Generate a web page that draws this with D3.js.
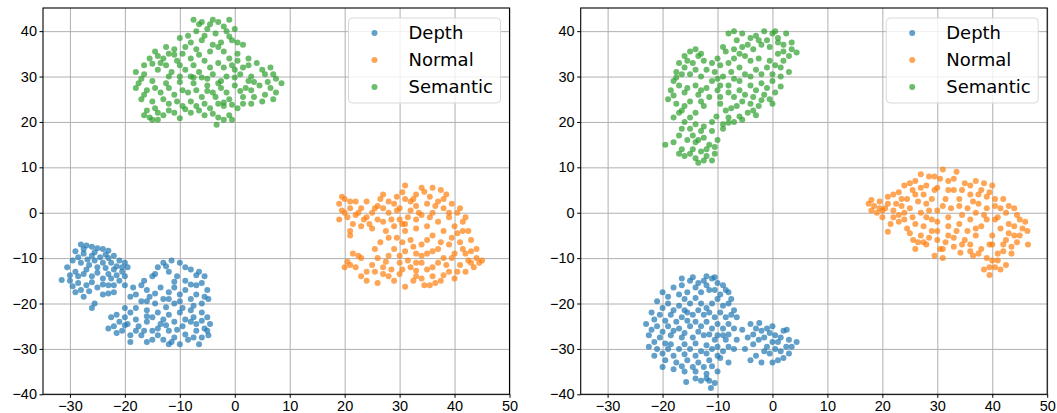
<!DOCTYPE html>
<html>
<head>
<meta charset="utf-8">
<script src="https://cdn.jsdelivr.net/npm/d3@7"></script>
<style>
  body { margin: 0; background: #fff; }
  svg { display: block; font-family: "DejaVu Sans", sans-serif; }
  .grid line { stroke: #b0b0b0; stroke-width: 1; }
  .grid path { display: none; }
  .axis path { display: none; }
  .axis line { stroke: #000; stroke-width: 1; }
  .axis text { font-size: 14.5px; fill: #000; }
  .legend text { font-size: 18px; fill: #000; }
</style>
</head>
<body>
<svg id="chart" width="1057" height="413"></svg>
<script>
const categories = ['Depth', 'Normal', 'Semantic'];
const colors = ['#1f77b4', '#ff7f0e', '#2ca02c'];
const xTicks = [-30, -20, -10, 0, 10, 20, 30, 40, 50];
const yTicks = [-40, -30, -20, -10, 0, 10, 20, 30, 40];

// left panel points (t-SNE coords)
const depthLeft = [[-28,-7],[-27,-7.2],[-26,-7.5],[-25,-7.8],[-24,-8],[-23,-8.4],[-29,-8.5],[-27.5,-9],[-26,-9.5],[-24.5,-9.8],[-23,-10],[-22,-9.5],[-21,-10.5],[-20,-11],[-19.5,-12],[-29.5,-10.5],[-28,-11],[-26.5,-11.5],[-25,-12],[-23.5,-12.2],[-22,-12.5],[-20.5,-13],[-30.5,-12],[-29,-13],[-27.5,-13.5],[-26,-14],[-24,-14.5],[-22.5,-14.5],[-21,-15],[-31.5,-14.8],[-30,-15],[-28.5,-15.5],[-27,-16],[-25,-16.5],[-23,-16],[-29,-17.5],[-27.5,-18.5],[-24,-18],[-22,-17.5],[-25.5,-20],[-26,-21],[-28.5,-14],[-25.5,-10.5],[-22.5,-11],[-20,-14],
  [-17,-16],[-16,-17],[-18,-18],[-15,-14],[-14,-12],[-13,-11],[-11.5,-10.5],[-10,-11],[-8,-12.5],[-6.5,-13],[-5.5,-14],[-12,-13],[-10.5,-14],[-9,-15],[-7,-16],[-5,-17],[-15.5,-18.5],[-13.5,-16.5],[-12,-17.5],[-10,-18],[-8,-19],[-6,-20],[-4.8,-19],[-17,-19.5],[-14.5,-20],[-19,-18.5],[-20,-16],[-11,-20],[-9.5,-21],[-13,-19],
  [-23,-25.5],[-22,-25],[-21,-24],[-20,-23],[-19,-22],[-18,-21],[-16,-21.5],[-14,-22],[-12,-22.5],[-10,-22],[-8,-21.5],[-6,-22],[-5,-23],[-4.5,-24.5],[-20.5,-26],[-19,-27],[-19,-28.5],[-17.5,-25],[-16,-24],[-15,-26],[-13.5,-24.5],[-12,-26],[-11,-27.5],[-9.5,-25],[-8,-24],[-7,-26],[-6,-27.5],[-5.5,-25.5],[-13,-28],[-10,-29],[-8.5,-28],[-15,-28],[-17,-27],[-18,-23.5],[-14,-25.5],[-11,-24],[-7.5,-23],[-22.5,-23],[-20,-21],[-16,-22.8],[-12.5,-20.8],[-4.8,-27],[-6.5,-29],
  [-27.5,-8],[-25.5,-8.7],[-23.5,-9.2],[-28.5,-9.8],[-26.8,-10.3],[-24,-11],[-21.5,-11.8],[-30,-13.8],[-27,-12.5],[-25,-13.2],[-23,-13.5],[-21.5,-13.8],[-29.5,-16.2],[-26,-15.3],[-24,-15.8],[-22,-16],[-28,-17],[-26.5,-17.3],[-23,-17.8],[-20.5,-12],
  [-18.5,-16.5],[-16.5,-15],[-14.5,-13.5],[-12.5,-11.8],[-9,-12],[-7,-13.8],[-11,-15.2],[-8,-15.8],[-6,-15.5],[-14.5,-17.8],[-11,-16.5],[-9,-17],[-7,-18],[-5.5,-18.5],[-16,-19.5],[-12,-19],[-10,-19.5],[-7.5,-20.5],
  [-21.5,-22.5],[-19.5,-24.5],[-18,-26],[-16.5,-26],[-15,-23],[-13,-23.5],[-12.5,-24.8],[-10.5,-25.8],[-9,-23.5],[-7,-24.5],[-6,-23.8],[-5,-26],[-9,-26.8],[-11.5,-28.5],[-14,-27],[-16,-28.5],[-7.5,-27.5],[-12,-29],[-20,-24.8],[-21.5,-26.5]];

const normalLeft = [[19,2],[20,3],[19.5,0.5],[21,1],[22,2.5],[20.5,-1],[22,-0.5],[23,1],[19,-1.5],[21.5,-2.5],[24,-1],[24,2.5],[25,0],[26,-1.5],[23,-3],[27,-2],[28,0],[26,1.5],[28,2.5],[25,-3.5],[27.5,-4],[29,-3],[30,-1.5],[21,-5],
  [30,1],[31,3],[32,0.5],[33,4],[34.5,4.6],[36,5.5],[37.5,5],[38.5,4],[35,2],[33,1.5],[31.5,-1],[34,-0.5],[36,0],[38,1],[39.5,2],[40.5,0],[37,-2],[35,-3],[33,-3.5],[31,-4],[29.5,-5.5],[32,-6],[34,-7],[36,-5],[38,-4],[40,-3],[41.5,-2],[42.5,-4],[43,-6],[41,-6.5],[39,-7],[37,-8],[35,-9],[33,-9],[31,-8.5],[29,-8],[30,-11],[32,-12],[34,-11],[36,-12],[38,-10],[40,-9],[42,-9],[44,-10],[45,-10.5],[43.5,-12],[41,-11.5],[39,-13],[37.5,-15],[36,-14],[34,-14.5],[31,-16.3],[32.5,-15],[30,-13.5],[28,-14],[27,-12],[26,-10],[28,-9.5],[25,-11.5],[24,-13],[23,-10],[21.5,-9],[20.5,-10.8],[22,-12],[20,-12],[24,-15],[26,-15.5],[42,-13],[44,-8],[42,-1],[39,-1],[29,2],[27,4],[32,2.5],[37,2.5],[33,-1.5],[30.5,-2.5],[35,-6],[40.5,-4.5],[26.5,-6.5],[28.5,-12.5],[35.5,-16],[40,-14.5],[43,-11],[38.5,-11.5],[33,-12.8],[21,-4],[25.5,-8],[29.5,3.5],[31,6],
  [19.5,3.5],[21,2.5],[20,0],[22.5,0],[23.5,-1.5],[25.5,1],[24.5,-2.5],[27,1],[26.5,3],[28.5,-1.5],[29.5,0.5],[30.5,4.5],[32.5,3],[34,5.5],[35.5,3.5],[36.5,1.5],[38,3],[39,0],[41,1],[41.5,-4],[39.5,-5.5],[37.5,-6.5],[36,-8.5],[34,-9.5],[32.5,-7.5],[30.5,-6.5],[28,-5.5],[30,-9.5],[31.5,-10.5],[33,-11],[35,-12.5],[37,-11],[39.5,-10],[41.5,-8],[43,-8.5],[44.5,-11],[42.5,-10.5],[40.5,-13],[38,-13.8],[36.5,-15.5],[34.5,-16],[33,-14],[30.5,-12.5],[29,-15],[27,-13.5],[25.5,-13],[23,-14],[22.5,-9.5],[21,-11.5],[27.5,-10.8],[33.5,0],[31,-2.5],[35.5,-1]];

const semanticLeft = [[-7.5,42.5],[-6,42],[-4.5,41.5],[-3,42],[-1,42.5],[-7,40],[-5,40.5],[-3.5,39.5],[-1.5,40],[0,40.5],[-8.5,39],[-10,38.5],[-6,38],[-2.5,37.5],[-0.5,38],[1.5,37],[-12.5,36.5],[-14.5,35.5],[-11,36],[-9,36.5],[-7,36],[-4.5,35.5],[-2,35.5],[0.5,35],[2.5,34],[-15.5,34],[-13,34],[-10.5,33.5],[-8,34],[-5.5,33.5],[-3,33],[-0.5,32.5],[1.5,32],[4,33],[6.5,32],[-16.5,32.5],[-14,31.5],[-11.5,31],[-9,31.5],[-6.5,31],[-4,30.5],[-1.5,30],[1,30.5],[3,30],[5.5,30.5],[7.5,29.5],[8.5,28.5],[-18,31],[-17,29.5],[-15,29],[-12.5,28.5],[-10,28.8],[-7.5,28.5],[-5,28],[-2.5,27.5],[0,28],[2,27.5],[4.5,28],[6.5,27.5],[-18,27.5],[-16,27],[-13.5,26.5],[-11,26],[-8.5,26.5],[-6,25.5],[-3.5,25.5],[-1,25],[1.5,25.5],[3.5,25.5],[5.5,26],[7.5,26.5],[-17,25],[-15,24.5],[-12,24],[-9.5,23.5],[-7,23.5],[-4.5,23],[-2,23.5],[0.5,23],[3,24],[-16,22.5],[-14,22],[-15.5,21],[-13,21.5],[-11,22],[-8,22],[-5.5,21.5],[-3,21],[-1,21.5],[-0.5,20.5],[-3.3,19.4],[-15,20.5],[-14.5,23],[-10,32.5],[-6,29.8],[-3,28.5],[-8,30],[-4,37],[-6.5,34.8],[-1,34],[-12,30],[-9.5,27],[-2,24.3],[2.5,29],[-16.5,30.5],[-13.5,33],[-11,34.8],[5,24.5],[0.5,33.5],[-5,26.8],
  [-6.5,41.5],[-4,42.5],[-2,41],[-5.5,39],[-8,37.5],[-1,38.8],[0.5,37.5],[-3,36.5],[-9.5,35],[-12,35],[-14,34.5],[-7.5,32.5],[-4.5,32],[-2,32],[0,31.5],[2.5,32.5],[5,31.5],[7,30.5],[-15,32.8],[-12.5,32.5],[-10,30],[-7.5,29.8],[-5,29.5],[-2.5,29],[0,29.8],[3.5,28.8],[6,28.8],[-17.5,28.5],[-14.5,27.5],[-12,27.5],[-7,27],[-4,26.5],[-1.5,26.5],[1,26.8],[3,27],[7,25],[-16.5,26],[-13,25],[-10.5,24.5],[-8,24.5],[-5.5,24],[-3,24],[-0.5,23.8],[1.5,24],[-12,22.5],[-9,22.8],[-6.5,22.5],[-4,21.8],[-2,20.5],[-14,20.5],[-16.5,21.5],[-10,20.8]];

// right panel points
const depthRight = [[-16.5,-14.5],[-15,-15],[-13.5,-15.5],[-12,-14],[-11,-14.5],[-10,-15.5],[-9,-16],[-18,-16.5],[-20,-17.5],[-17,-18],[-15.5,-17.5],[-13,-17.5],[-11.5,-17],[-9.5,-18],[-8,-17.5],[-7.5,-19],[-21,-19.5],[-19,-20],[-17,-20.5],[-15,-20],[-13,-20],[-11,-20],[-9,-20.5],[-7,-21.5],[-6.5,-23],[-22,-22],[-20.5,-22.5],[-18.5,-22.5],[-16.5,-23],[-14.5,-22.5],[-12.5,-22.5],[-10.5,-23],[-8.5,-23],[-23,-24.5],[-21,-25],[-19,-25],[-17,-25.5],[-15,-25],[-13,-25],[-11,-25.5],[-9,-25.5],[-7,-25.5],[-22.5,-27],[-20.5,-27.5],[-18.5,-27],[-16.5,-27.5],[-14.5,-27.5],[-12.5,-27],[-10.5,-28],[-8.5,-28],[-6.5,-28],[-22.5,-29.5],[-21,-30],[-19,-30],[-17,-30],[-15,-30],[-13,-30.5],[-11,-30],[-9,-30.5],[-7,-30],[-21.5,-31.5],[-19.5,-32.5],[-17.5,-33],[-15.5,-32.5],[-13.5,-33],[-11.5,-32.5],[-9.5,-32],[-8,-33],[-18,-34.5],[-16,-35],[-14,-35],[-12,-35.5],[-10,-35],[-15.7,-37.3],[-13,-37],[-11.2,-38.6],[-10.5,-37.5],[-12,-36.5],[-20,-34],[-18.5,-29],[-14,-24],[-12,-21],[-16,-21.5],[-10,-27],[-8,-26.8],
  [-5.5,-25.8],[-4.5,-27.5],[-3.5,-29],[-2.4,-24.3],[-2,-26],[-1.5,-27.5],[-1,-29.5],[-0.5,-31],[-2,-33],[-3,-31.5],[0,-25],[0.5,-27],[1,-28.5],[1.5,-30.5],[1,-32.5],[2,-26],[2.6,-25.8],[3,-28],[3.5,-29.5],[4.4,-28.5],[3,-31],[-4,-24.5],[-1,-25.5],[0,-33],[-4,-32.5],[-5,-30],
  [-14.5,-14.2],[-12.5,-15],[-10.5,-14.2],[-16.5,-16],[-14,-16.5],[-12,-16],[-10.5,-17],[-8.5,-17],[-19,-18.5],[-16,-19],[-14,-18.8],[-10,-19],[-8,-20],[-20,-21],[-18,-21.5],[-15.5,-22],[-13.5,-21.5],[-11.5,-22],[-9.5,-22],[-7.5,-22.5],[-21.5,-23.5],[-19.5,-23.8],[-17.5,-24],[-15.5,-23.8],[-12,-24],[-10,-24.5],[-8,-24.5],[-22,-25.8],[-20,-26.2],[-18,-26],[-16,-26.5],[-13.5,-26.2],[-11.5,-26.8],[-9,-27],[-21.5,-28.5],[-19.5,-28.8],[-16,-29],[-14,-28.8],[-12,-29.2],[-10,-29.5],[-8,-29.5],[-20,-31],[-18,-31.5],[-16,-31.2],[-14,-31.5],[-12,-31],[-10,-31.5],[-16.5,-33.8],[-14.5,-34],[-12.5,-34],[-11,-33.8],[-14,-36.5],[-11.5,-37],
  [-3,-25.5],[-0.5,-26.5],[1.5,-27.5],[2.5,-29.5],[-1.5,-30.5],[0,-28.5],[-2.5,-28],[2,-32],[-3.5,-26.8],[0.5,-30]];

const normalRight = [[17.5,2],[18,0.5],[18.5,1.5],[19,0],[19.5,2.5],[20.5,1],[21,3.5],[22,0.5],[22.5,2],[23,4.5],[24,6],[24.5,3],[25,1],[25.5,5],[26,7],[26.5,2.5],[27,8.5],[27.5,4],[28,6],[28.5,0.5],[29,3],[29.5,8],[30,5.5],[31,9.5],[31.5,3],[32,7],[32.5,1],[33,5],[33.5,9],[34,3],[35,6.5],[35.5,1],[36,4],[37,7],[37.5,2],[38,5],[38.5,-0.5],[39,3.5],[40,6],[40.5,1.5],[41,-1],[42,3],[42.5,0],[43,-2.5],[44,1],[45,-1.5],[46,-2],[46.4,-4],[45,-5],[46.5,-7],[44.5,-6.5],[43,-4.5],[41.5,-3.5],[40,-5],[42,-7],[43.5,-9],[41,-9],[42.5,-11.5],[40.5,-12],[39.5,-13.7],[38.5,-12.5],[41,-10.5],[39,-10],[38,-8],[36.5,-9.5],[35,-6],[34.2,-8.8],[33,-7.5],[32,-5],[31,-8],[30,-6],[29,-4],[28,-7],[27,-5],[26,-8],[25.6,-6],[24.5,-3.5],[23,-2],[21,-4.2],[22,-1],[24,-1.5],[26,-2.5],[28,-1],[30,-2],[32,-1],[34,-2.5],[36,-1.5],[38,-3],[37,-5],[36,-7],[33.5,-4],[30,0.5],[27,0],[25,-4.5],[20,-1],[31,-10],[29.5,-9.5],[35.5,-4],[39,1],[37,0],[44,-3],[39.5,-7],[27.5,-6.5],[23.5,1.5],
  [18,2.8],[19.5,1],[21,2],[22,4],[23.5,3],[24,0],[25,6.5],[26,4],[27,5.5],[28,2],[28.5,8],[29.5,5],[30.5,7.5],[31,1.5],[32,5],[33,7.5],[34,1.5],[34.5,5],[36,6],[36.5,2.5],[37.5,4],[38.5,6.5],[39.5,4.5],[40.5,3],[41.5,1],[43,1.5],[44.5,-0.5],[45.5,-3.5],[44,-5],[42.5,-6],[43.5,-7.5],[42,-8.5],[40,-7],[41.5,-12.5],[40,-10.5],[39.5,-12],[37.5,-9],[36,-8.5],[34.5,-7],[33,-5.5],[31.5,-6.5],[30,-4],[28.5,-5.5],[26.5,-6.5],[27.5,-3],[25.5,-1],[23,-0.5],[21.5,-2.5],[20,0.5],[32,-3],[34.5,-0.5],[37,-3.5],[39,-1.5],[30.5,-8],[29,-1.5],[40.5,-1.5]];

const semanticRight = [[-19,25],[-18.5,27],[-18,29],[-17.5,31],[-17,33],[-16,34.5],[-15,35.5],[-14,36],[-13,35],[-12.5,33.5],[-14.5,33],[-16,32],[-15,30.5],[-17,28],[-16,26.5],[-14,28],[-13,30],[-12,31.5],[-15,24.5],[-17.5,24],[-13.5,26],[-12,27.5],[-11,29],[-14,22],[-16.5,22.5],[-18,21],[-12.5,23.5],[-11.5,25.5],
  [-19.5,15],[-16,20],[-15,18.5],[-14,19.5],[-13,18],[-17,17],[-15.5,16],[-14,15.5],[-12.5,16.5],[-11,18],[-11.5,15],[-13,13.5],[-15,13],[-16.5,14],[-14,12],[-12,12.5],[-10.5,13],[-11,11.5],[-13.5,11],[-10,16],[-9,18.5],[-17,13],
  [-10,34],[-8.5,35.5],[-7,36],[-5.5,36.5],[-3.5,36],[-2,37],[-8,39.5],[-7,40],[-1.5,40],[0,39.5],[1,38.5],[2,37],[3.5,36],[4.4,35.3],[-0.5,36.5],[1,35],[-4,33.5],[-6,32],[-8,33],[-10.5,31],[-9,30],[-7,29.5],[-5,30.5],[-3,31.5],[-1,32],[0.5,32.5],[2,33.5],[3,31],[1.5,30],[0,29],[-2,28.5],[-4,28],[-6,27],[-8,26.5],[-10,27],[-9.5,24],[-7.5,23],[-5.5,24.5],[-3.5,25.5],[-1.5,26],[0.5,26.5],[1.5,27.8],[-0.5,25],[-2.5,23.5],[-4.5,22],[-6,21.2],[-8,21],[-10.2,21.2],[-9,19.5],[-7,20],[-3,21.5],[-5,34.5],[-2.5,34],[-6.5,38],[-4,38.5],[-3,39],[2.5,39.5],[1,37.5],[3,34.5],[-11,33],[-9.5,28],[-7.5,31],
  [-18,25.8],[-17.5,29.8],[-16.5,30.5],[-15.5,33.5],[-13.5,34.5],[-14,31.5],[-15.5,27.5],[-13,27],[-16,23.5],[-13,24.5],[-17,22],[-15,21],
  [-18,15.5],[-16.5,18.5],[-14.5,17],[-12.5,19],[-12,14],[-14.5,14],[-16,12.5],[-12.5,11.5],[-10.5,14.5],[-13.5,16],
  [-9,36.5],[-6,35],[-4.5,37],[-2.5,38],[-1,38],[0.5,40],[-5.5,39.5],[2,35.5],[3.5,37.5],[-7,34],[-9.5,32.5],[-8,28],[-6,29],[-4,30],[-2,30.5],[0,30.5],[-0.5,33.5],[1.5,32],[-1,27.5],[-3,27],[-5,26],[-7,25.5],[-8.5,22.5],[-6.5,23.5],[-4,24],[-2,24.8],[0,24],[-3.5,22.5],[-5.5,20.5],[-8,19.8],[-11,20],[-9.5,25.5],[-10,29.5]];

const panels = [
  { left: 43, series: [depthLeft, normalLeft, semanticLeft] },
  { left: 580.7, series: [depthRight, normalRight, semanticRight] }
];

const plotW = 466.5, plotTop = 8, plotH = 386.3;
const svg = d3.select('#chart');

panels.forEach((p) => {
  const x = d3.scaleLinear().domain([-34.9, 50]).range([0, plotW]);
  const y = d3.scaleLinear().domain([-40, 45.1]).range([plotH, 0]);

  const g = svg.append('g').attr('transform', `translate(${p.left},${plotTop})`);

  // grid
  g.append('g').attr('class', 'grid')
    .attr('transform', `translate(0,${plotH})`)
    .call(d3.axisBottom(x).tickValues(xTicks).tickSize(-plotH).tickFormat(''));
  g.append('g').attr('class', 'grid')
    .call(d3.axisLeft(y).tickValues(yTicks).tickSize(-plotW).tickFormat(''));

  // points
  p.series.forEach((pts, i) => {
    g.append('g').selectAll('circle')
      .data(pts)
      .join('circle')
        .attr('cx', d => x(d[0]))
        .attr('cy', d => y(d[1]))
        .attr('r', 3)
        .attr('fill', colors[i])
        .attr('fill-opacity', 0.7);
  });

  // axes
  g.append('g').attr('class', 'axis')
    .attr('transform', `translate(0,${plotH})`)
    .call(d3.axisBottom(x).tickValues(xTicks).tickSize(3.5).tickPadding(3.2));
  g.append('g').attr('class', 'axis')
    .call(d3.axisLeft(y).tickValues(yTicks).tickSize(3.5).tickPadding(2.5));

  g.append('rect')
    .attr('width', plotW).attr('height', plotH)
    .attr('fill', 'none').attr('stroke', '#000').attr('stroke-width', 1.1);

  // legend
  const lg = g.append('g').attr('class', 'legend')
    .attr('transform', `translate(${plotW - 161},10)`);
  lg.append('rect')
    .attr('width', 152).attr('height', 85).attr('rx', 4)
    .attr('fill', '#fff').attr('fill-opacity', 0.8)
    .attr('stroke', '#d9d9d9');
  categories.forEach((c, i) => {
    lg.append('circle')
      .attr('cx', 26).attr('cy', 15 + i * 27).attr('r', 3)
      .attr('fill', colors[i]).attr('fill-opacity', 0.7);
    lg.append('text')
      .attr('x', 60).attr('y', 15 + i * 27).attr('dy', '0.35em')
      .text(c);
  });
});
</script>
</body>
</html>
